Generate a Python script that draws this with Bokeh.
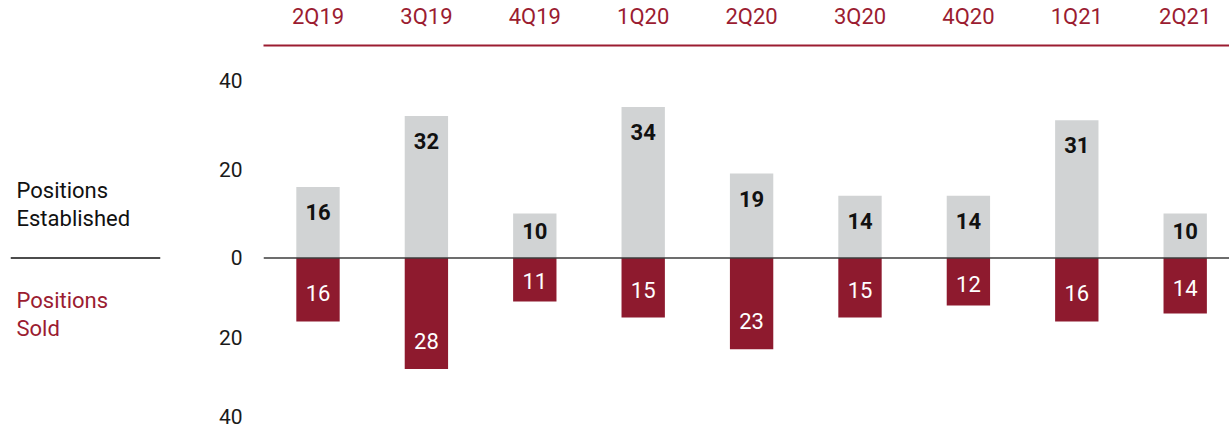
from bokeh.plotting import figure
from bokeh.layouts import row
from bokeh.models import (ColumnDataSource, Range1d, FixedTicker, CustomJSTickFormatter,
                          Span, Label)
from bokeh.core.properties import value
from bokeh.embed import file_html
from bokeh.resources import INLINE

# ---------------- data ----------------
quarters = ["2Q19", "3Q19", "4Q19", "1Q20", "2Q20", "3Q20", "4Q20", "1Q21", "2Q21"]
established = [16, 32, 10, 34, 19, 14, 14, 31, 10]
sold = [16, 28, 11, 15, 23, 15, 12, 16, 14]
ticks_up = [0, 20, 40]
ticks_down = [20, 40]
legend_top = ["Positions", "Established"]
legend_bottom = ["Positions", "Sold"]

# ---------------- layout constants (pixels) ----------------
TOTAL_W, H = 1229, 429
LEG_W = 170
W = TOTAL_W - LEG_W
FRAME_LEFT_PAGE = 263
FRAME_LEFT = FRAME_LEFT_PAGE - LEG_W
FRAME_TOP = 44
ZERO_Y = 257          # zero line, from top
PX_UP = 4.45          # pixels per unit, established
PX_DOWN = 3.98        # pixels per unit, sold
BAND = 108.4
FIRST_CENTER = 317.5 - LEG_W
FONT = "Roboto"
RED = "#9b1c31"
BAR_RED = "#8e1a2e"
GREY = "#d1d3d4"
BLACK = "#111111"

x_start = (FRAME_LEFT - FIRST_CENTER) / BAND
x_end = (W - FIRST_CENTER) / BAND
y_start = -(H - ZERO_Y) / PX_UP
y_end = (ZERO_Y - FRAME_TOP) / PX_UP

p = figure(width=W, height=H, output_backend="svg", toolbar_location=None,
           x_range=Range1d(x_start, x_end), y_range=Range1d(y_start, y_end),
           x_axis_location="above", y_axis_location="left",
           min_border_left=FRAME_LEFT, min_border_top=FRAME_TOP,
           min_border_right=0, min_border_bottom=0)
p.extra_y_ranges = {"sold": Range1d((H - ZERO_Y) / PX_DOWN, -(ZERO_Y - FRAME_TOP) / PX_DOWN)}

p.outline_line_color = None
p.xgrid.grid_line_color = None
p.ygrid.grid_line_color = None
p.background_fill_color = "white"
p.border_fill_color = "white"

# ---- top category axis ----
xa = p.xaxis[0]
xa.ticker = FixedTicker(ticks=list(range(len(quarters))))
xa.major_label_overrides = {i: q for i, q in enumerate(quarters)}
xa.axis_line_color = RED
xa.axis_line_width = 2
xa.major_tick_out = 0
xa.major_tick_in = 0
xa.minor_tick_line_color = None
xa.major_tick_line_color = None
xa.major_label_standoff = 17
xa.major_label_text_font = FONT
xa.major_label_text_font_size = "22px"
xa.major_label_text_color = RED

# ---- left value axis (both scales) ----
ratio = PX_DOWN / PX_UP
ya = p.yaxis[0]
ya.ticker = FixedTicker(ticks=ticks_up + [-t * ratio for t in ticks_down])
ya.formatter = CustomJSTickFormatter(args=dict(r=ratio),
                                     code="return tick < 0 ? String(Math.round(-tick / r)) : String(Math.round(tick));")
ya.axis_line_color = None
ya.major_tick_line_color = None
ya.minor_tick_line_color = None
ya.major_tick_out = 0
ya.major_tick_in = 0
ya.major_label_standoff = 21
ya.major_label_text_font = FONT
ya.major_label_text_font_size = "21px"
ya.major_label_text_color = "#1a1a1a"

# ---- bars ----
src = ColumnDataSource(dict(
    x=list(range(len(quarters))),
    est=established,
    sold=sold,
    est_lbl=[str(v) for v in established],
    sold_lbl=[str(v) for v in sold],
    est_off=[min(25, 0.4 * v * PX_UP) for v in established],
    sold_off=[-min(28, 0.46 * v * PX_DOWN) for v in sold],
))

p.vbar(x="x", top="est", bottom=0, width=0.4, source=src,
       fill_color=GREY, line_color=None)
p.vbar(x="x", top="sold", bottom=0, width=0.4, source=src, y_range_name="sold",
       fill_color=BAR_RED, line_color=None)

p.text(x="x", y="est", text="est_lbl", y_offset="est_off", source=src,
       text_align="center", text_baseline="middle", text_font=value(FONT),
       text_font_size="22px", text_font_style="bold", text_color=BLACK)
p.text(x="x", y="sold", text="sold_lbl", y_offset="sold_off", source=src, y_range_name="sold",
       text_align="center", text_baseline="middle", text_font=value(FONT),
       text_font_size="22px", text_color="white")

p.add_layout(Span(location=0, dimension="width", line_color="#3c3c3c", line_width=1.5))

# ---------------- left legend panel ----------------
# 1 data unit = 1 pixel; x from frame left (page x 10), y from bottom
LEG_L, LEG_R = 10, 10
lg = figure(width=LEG_W, height=H, output_backend="svg", toolbar_location=None,
            x_range=Range1d(0, LEG_W - LEG_L - LEG_R), y_range=Range1d(0, H - FRAME_TOP),
            min_border_left=LEG_L, min_border_right=LEG_R,
            min_border_top=FRAME_TOP, min_border_bottom=0)
lg.axis.visible = False
lg.grid.visible = False
lg.outline_line_color = None
lg.border_fill_color = "white"

def lab(txt, page_y, color):
    lg.add_layout(Label(x=16 - LEG_L, y=H - page_y, text=txt, text_font=FONT,
                        text_font_size="22px", text_color=color,
                        text_baseline="middle", text_align="left"))

for t, yy in zip(legend_top, [189, 217]):
    lab(t, yy, BLACK)
for t, yy in zip(legend_bottom, [300, 328]):
    lab(t, yy, RED)

lg.add_layout(Span(location=H - ZERO_Y, dimension="width", line_color=BLACK, line_width=1.5))

layout = row(lg, p, spacing=0)
open("out.html", "w").write(file_html(layout, INLINE))
